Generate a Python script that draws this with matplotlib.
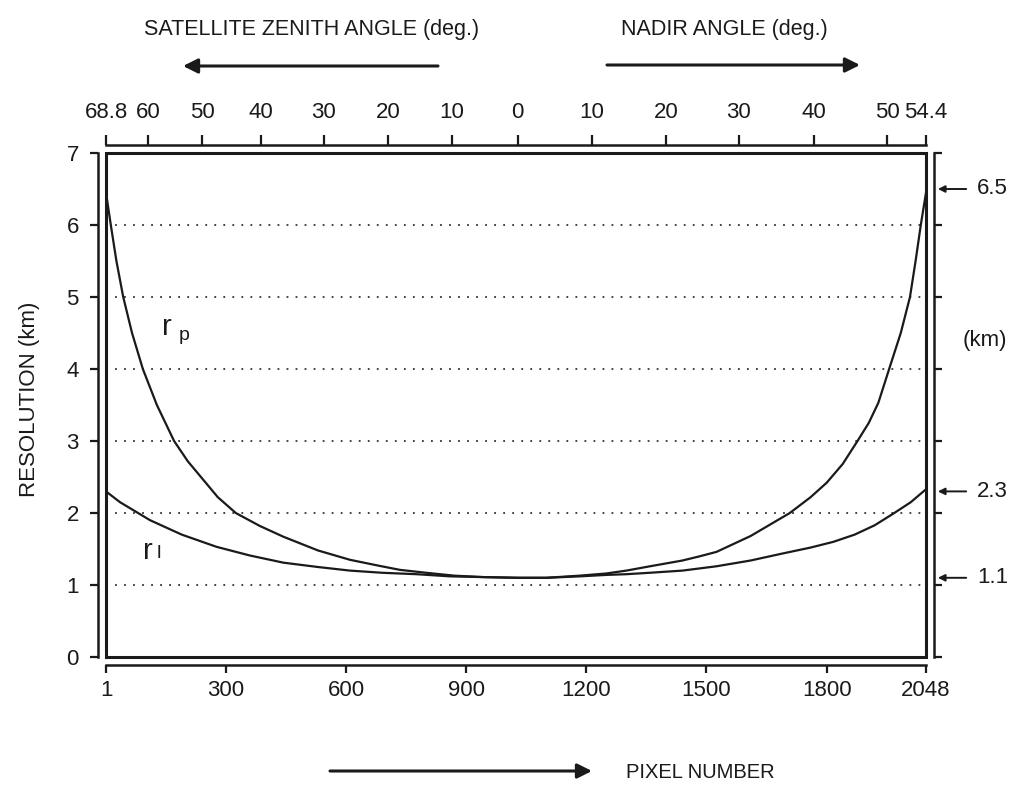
import matplotlib
matplotlib.use("Agg")
import matplotlib.pyplot as plt
from matplotlib.patches import Rectangle

plt.rcParams['font.family'] = ['Liberation Sans', 'DejaVu Sans']

# r_p (cross-track) and r_l (along-track) resolution
pix_p = [1, 13, 27, 44, 66, 93, 128, 171, 205, 244, 280, 325, 385, 444, 530, 610,
         680, 735, 800, 870, 942, 1029, 1100, 1184, 1250, 1300, 1359, 1440, 1484,
         1525, 1610, 1708, 1760, 1800, 1840, 1877, 1905, 1929, 1956, 1985, 2008,
         2022, 2035, 2048]
res_p = [6.45, 6.0, 5.5, 5.0, 4.5, 4.0, 3.5, 3.0, 2.72, 2.46, 2.22, 2.0, 1.82,
         1.67, 1.48, 1.35, 1.27, 1.21, 1.17, 1.13, 1.11, 1.10, 1.10, 1.13, 1.16,
         1.20, 1.26, 1.34, 1.40, 1.46, 1.68, 2.0, 2.22, 2.42, 2.68, 3.0, 3.25,
         3.53, 4.0, 4.5, 5.0, 5.5, 6.0, 6.45]

pix_l = [1, 36, 111, 190, 277, 360, 444, 530, 610, 690, 776, 860, 942, 1029,
         1100, 1184, 1250, 1300, 1359, 1440, 1525, 1610, 1692, 1760, 1817, 1870,
         1920, 1966, 2010, 2048]
res_l = [2.3, 2.15, 1.90, 1.70, 1.53, 1.41, 1.31, 1.25, 1.20, 1.17, 1.15, 1.12,
         1.11, 1.10, 1.10, 1.12, 1.14, 1.15, 1.17, 1.20, 1.26, 1.34, 1.44, 1.52,
         1.60, 1.70, 1.83, 1.99, 2.15, 2.33]

bottom_ticks = [1, 300, 600, 900, 1200, 1500, 1800, 2048]
left_ticks = [0, 1, 2, 3, 4, 5, 6, 7]
grid_levels = [1, 2, 3, 4, 5, 6]

top_pos = [1, 106, 241, 388, 545, 705, 865, 1029, 1214, 1399, 1581, 1768, 1951, 2048]
top_labels = ['68.8', '60', '50', '40', '30', '20', '10', '0',
              '10', '20', '30', '40', '50', '54.4']

marked_values = [6.5, 2.3, 1.1]
marked_labels = ['6.5', '2.3', '1.1']

W, H = 1013, 791
fig = plt.figure(figsize=(W / 100, H / 100), dpi=100)


def fx(px):
    return px / W


def fy(py):
    return 1 - py / H


ax = fig.add_axes([fx(106), fy(657), fx(926) - fx(106), fy(153) - fy(657)])
ax.set_xlim(1, 2048)
ax.set_ylim(0, 7)
ink = '#1a1a1a'
fs = 16

# box around the plotting area
ax.add_patch(Rectangle((0, 0), 1, 1, transform=ax.transAxes, fill=False,
                       lw=2.2, edgecolor=ink, clip_on=False, zorder=5))

for lv in grid_levels:
    ax.axhline(lv, color='#333333', lw=1.3, ls=(0, (1, 4)), zorder=1)

ax.plot(pix_p, res_p, color=ink, lw=1.6, zorder=3)
ax.plot(pix_l, res_l, color=ink, lw=1.6, zorder=3)

# offset scales
ax.spines['top'].set_visible(False)
for side in ['left', 'bottom', 'right']:
    ax.spines[side].set_position(('outward', 5.5))
    ax.spines[side].set_linewidth(1.8)
    ax.spines[side].set_color(ink)

ax.set_xticks(bottom_ticks)
ax.set_xticklabels([str(t) for t in bottom_ticks])
ax.set_yticks(left_ticks)
ax.tick_params(axis='x', direction='out', length=6, width=1.6, pad=5,
               labelsize=fs, colors=ink)
ax.tick_params(axis='y', direction='out', length=6, width=1.6, pad=8,
               labelsize=fs, colors=ink, right=True, labelright=False)

ax2 = ax.twiny()
ax2.set_xlim(1, 2048)
for side in ['left', 'bottom', 'right']:
    ax2.spines[side].set_visible(False)
ax2.spines['top'].set_position(('outward', 5.5))
ax2.spines['top'].set_linewidth(1.8)
ax2.spines['top'].set_color(ink)
ax2.patch.set_visible(False)
ax2.set_xticks(top_pos)
ax2.set_xticklabels(top_labels)
ax2.tick_params(axis='x', direction='out', length=7, width=1.6, pad=9,
                labelsize=fs, colors=ink)

# curve labels
ax.text(152, 4.58, 'r', fontsize=21, ha='center', va='center', color=ink)
ax.text(197, 4.47, 'p', fontsize=14, ha='center', va='center', color=ink)
ax.text(106, 1.47, 'r', fontsize=21, ha='center', va='center', color=ink)
ax.text(133, 1.44, 'l', fontsize=14, ha='center', va='center', color=ink)

# right-hand markers
tr = ax.get_yaxis_transform()
for v, lab in zip(marked_values, marked_labels):
    ax.annotate('', xy=(1.0145, v), xycoords=tr, xytext=(1.049, v), textcoords=tr,
                arrowprops=dict(arrowstyle='-|>', color=ink, lw=1.4,
                                mutation_scale=10, shrinkA=0, shrinkB=0))
    ax.text(1.062, v, lab, transform=tr, fontsize=fs, ha='left', va='center', color=ink)
ax.text(1.072, 4.4, '(km)', transform=tr, fontsize=fs, ha='center', va='center', color=ink)

# axis titles
fig.text(fx(29), fy(399), 'RESOLUTION (km)', rotation=90, fontsize=fs,
         ha='center', va='center', color=ink)
fig.text(fx(312), fy(30), 'SATELLITE ZENITH ANGLE (deg.)', fontsize=15.5,
         ha='center', va='center', color=ink)
fig.text(fx(724), fy(30), 'NADIR ANGLE (deg.)', fontsize=15.5,
         ha='center', va='center', color=ink)
fig.text(fx(700), fy(772), 'PIXEL NUMBER', fontsize=14.5,
         ha='center', va='center', color=ink)

arrow_kw = dict(arrowstyle='-|>', color=ink, lw=2.2, mutation_scale=22,
                shrinkA=0, shrinkB=0)
ax.annotate('', xy=(fx(183), fy(66)), xycoords='figure fraction',
            xytext=(fx(438), fy(66)), textcoords='figure fraction', arrowprops=arrow_kw)
ax.annotate('', xy=(fx(860), fy(65)), xycoords='figure fraction',
            xytext=(fx(607), fy(65)), textcoords='figure fraction', arrowprops=arrow_kw)
ax.annotate('', xy=(fx(592), fy(771)), xycoords='figure fraction',
            xytext=(fx(330), fy(771)), textcoords='figure fraction', arrowprops=arrow_kw)

fig.savefig('out.png', dpi=100, facecolor='white')
